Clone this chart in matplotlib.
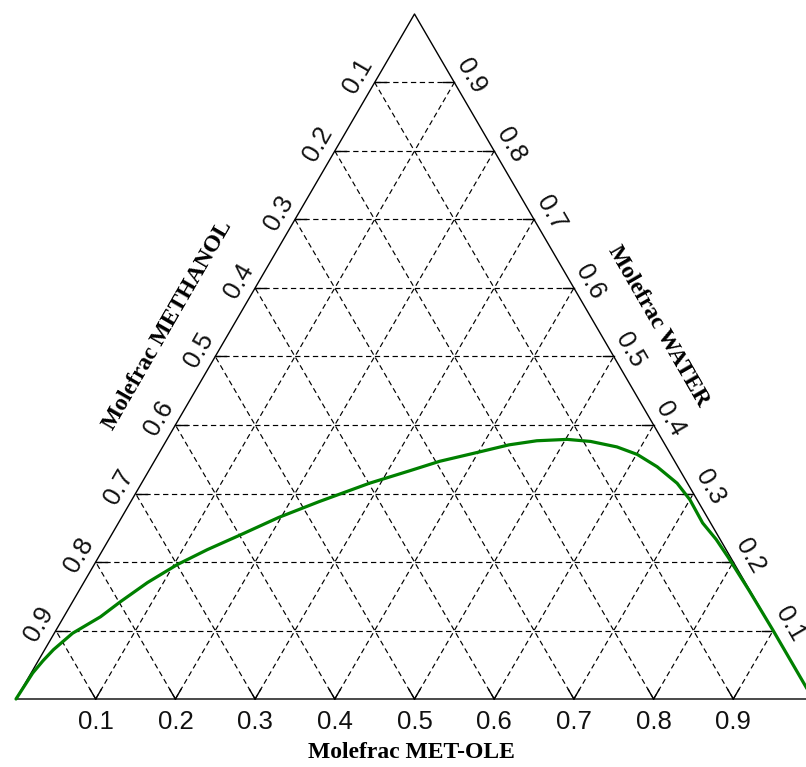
import numpy as np
import matplotlib
matplotlib.use("Agg")
import matplotlib.pyplot as plt

# ternary data: MET-OLE and WATER mole fractions (METHANOL = 1 - both)
ticks = [0.1, 0.2, 0.3, 0.4, 0.5, 0.6, 0.7, 0.8, 0.9]
curve_metole = [0.0, 0.002, 0.006, 0.011, 0.023, 0.046, 0.060, 0.080, 0.104,
                0.131, 0.161, 0.197, 0.236, 0.286, 0.327, 0.358, 0.399, 0.433,
                0.465, 0.502, 0.533, 0.570, 0.601, 0.635, 0.672, 0.700, 0.733,
                0.762, 0.790, 0.840, 0.899, 0.939, 0.984, 1.0]
curve_water = [0.0, 0.038, 0.056, 0.072, 0.096, 0.120, 0.142, 0.170, 0.196,
               0.218, 0.239, 0.265, 0.288, 0.315, 0.333, 0.347, 0.360, 0.371,
               0.377, 0.379, 0.376, 0.368, 0.357, 0.339, 0.315, 0.291, 0.257,
               0.233, 0.207, 0.159, 0.101, 0.061, 0.016, 0.0]

left_title = "Molefrac METHANOL"
right_title = "Molefrac WATER"
bottom_title = "Molefrac MET-OLE"


def tern(m, w):
    m = np.asarray(m, dtype=float)
    w = np.asarray(w, dtype=float)
    return m + 0.5 * w, w


fig = plt.figure(figsize=(8.06, 7.67), dpi=100)
fig.patch.set_facecolor("white")
ax = fig.add_axes([16 / 806, 68 / 767, 797 / 806, 685 / 767])
ax.set_xlim(0, 1)
ax.set_ylim(0, 1)
ax.axis("off")

dash = dict(color="black", lw=0.85, linestyle=(0, (4.5, 3)), clip_on=False)
for t in ticks:
    # constant water (horizontal)
    x, y = tern([0, 1 - t], [t, t])
    ax.plot(x, y, **dash)
    # constant MET-OLE (parallel to left edge)
    x, y = tern([t, t], [0, 1 - t])
    ax.plot(x, y, **dash)
    # constant METHANOL (parallel to right edge)
    x, y = tern([1 - t, 0], [0, 1 - t])
    ax.plot(x, y, **dash)

# triangle outline
x, y = tern([0, 1, 0, 0], [0, 0, 1, 0])
ax.plot(x, y, color="black", lw=1.0, clip_on=False)

# small solid ticks at the edges
tl = 0.014
for t in ticks:
    x, y = tern([0, tl], [t, t])
    ax.plot(x, y, color="black", lw=1.0, clip_on=False)
    x, y = tern([1 - t, 1 - t - tl], [t, t])
    ax.plot(x, y, color="black", lw=1.0, clip_on=False)
    x, y = tern([t, t], [0, tl])
    ax.plot(x, y, color="black", lw=1.0, clip_on=False)
    x, y = tern([t, t - tl], [0, tl])
    ax.plot(x, y, color="black", lw=1.0, clip_on=False)

# binodal curve
cx, cy = tern(curve_metole, curve_water)
ax.plot(cx, cy, color="#008000", lw=2.3, clip_on=False,
        solid_capstyle="round", solid_joinstyle="round")

tick_font = dict(family="Liberation Sans", fontsize=18.5, color="#111111")
title_font = dict(family="Liberation Serif", fontsize=17, fontweight="bold",
                  color="black")

for t in ticks:
    # bottom axis: MET-OLE
    x, y = tern(t, 0)
    ax.annotate(f"{t:.1f}", xy=(x, y), xytext=(0, -23), textcoords="offset pixels",
                ha="center", va="center", **tick_font)
    # left axis: METHANOL (= 1 - water on left edge)
    x, y = tern(0, 1 - t)
    ax.annotate(f"{t:.1f}", xy=(x, y), xytext=(-16.5, 7.0), textcoords="offset pixels",
                ha="center", va="center", rotation=60, rotation_mode="anchor",
                **tick_font)
    # right axis: WATER
    x, y = tern(1 - t, t)
    ax.annotate(f"{t:.1f}", xy=(x, y), xytext=(16.5, 6.0), textcoords="offset pixels",
                ha="center", va="center", rotation=-60, rotation_mode="anchor",
                **tick_font)

x, y = tern(0, 0.546)
ax.annotate(left_title, xy=(x, y), xytext=(-66, 0),
            textcoords="offset pixels", ha="center", va="center", rotation=60,
            rotation_mode="anchor", **title_font)
x, y = tern(1 - 0.545, 0.545)
ax.annotate(right_title, xy=(x, y), xytext=(62, 0),
            textcoords="offset pixels", ha="center", va="center", rotation=-60,
            rotation_mode="anchor", **title_font)
x, y = tern(0.496, 0)
ax.annotate(bottom_title, xy=(x, y), xytext=(0, -54), textcoords="offset pixels",
            ha="center", va="center", **title_font)

fig.savefig("out.png", dpi=100, facecolor="white")
